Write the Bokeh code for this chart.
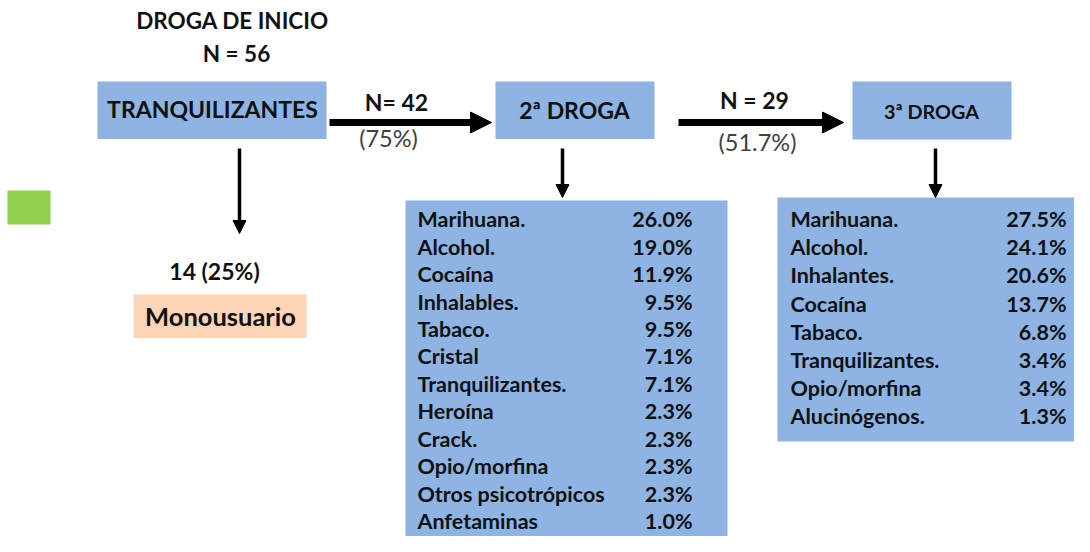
from bokeh.plotting import figure
from bokeh.models import Range1d, ColumnDataSource, Arrow, NormalHead
from bokeh.core.properties import value
from bokeh.embed import file_html
from bokeh.resources import INLINE

# ---------------- data ----------------
title_lines = ["DROGA DE INICIO", "N = 56"]
stage_labels = ["TRANQUILIZANTES", "2ª DROGA", "3ª DROGA"]
flow_n = ["N= 42", "N = 29"]
flow_pct = ["(75%)", "(51.7%)"]
mono_count = "14 (25%)"
mono_label = "Monousuario"

drugs2 = ["Marihuana.", "Alcohol.", "Cocaína", "Inhalables.", "Tabaco.", "Cristal",
          "Tranquilizantes.", "Heroína", "Crack.", "Opio/morfina",
          "Otros psicotrópicos", "Anfetaminas"]
pct2 = [26.0, 19.0, 11.9, 9.5, 9.5, 7.1, 7.1, 2.3, 2.3, 2.3, 2.3, 1.0]

drugs3 = ["Marihuana.", "Alcohol.", "Inhalantes.", "Cocaína", "Tabaco.",
          "Tranquilizantes.", "Opio/morfina", "Alucinógenos."]
pct3 = [27.5, 24.1, 20.6, 13.7, 6.8, 3.4, 3.4, 1.3]

# ---------------- style ----------------
BLUE = "#8DB4E2"
PEACH = "#FBD5B5"
GREEN = "#92D050"
INK = "#111111"
GREY = "#404040"
FONT = value("Lato")

W, H = 1074, 536
p = figure(width=W, height=H, output_backend="svg", toolbar_location=None,
           x_range=Range1d(0, W), y_range=Range1d(H, 0),
           min_border=0, outline_line_color=None)
p.axis.visible = False
p.grid.visible = False
p.background_fill_color = "white"
p.border_fill_color = "white"

# layout (screen-like coordinates, y downward)
stage_boxes = dict(left=[97, 495, 852], right=[326, 654, 1011],
                   top=[81, 81, 81], bottom=[138.5, 138.5, 139])
p.quad(left="left", right="right", top="top", bottom="bottom",
       source=ColumnDataSource(stage_boxes), fill_color=BLUE, line_color=None)

# table boxes
p.quad(left=[405, 777], right=[727, 1100], top=[200, 197], bottom=[560, 441],
       fill_color=BLUE, line_color=None)
# monousuario box
p.quad(left=[133], right=[306], top=[294], bottom=[337.5], fill_color=PEACH, line_color=None)
# green square
p.quad(left=[7], right=[50], top=[190], bottom=[224], fill_color=GREEN, line_color=None)

def txt(xs, ys, texts, size, style="bold", align="center", color=INK):
    # ys are the visual baselines; compensate the renderer's baseline offset
    ys = [y - 0.37 * size for y in ys]
    p.text(x=xs, y=ys, text=texts, text_font=FONT, text_font_size=f"{size}px",
           text_font_style=style, text_align=align, text_baseline="alphabetic",
           text_color=color)

# title
txt([232, 236], [28.5, 61.5], title_lines, 22.5)
# stage labels
txt([212, 574], [117, 118.5], stage_labels[:2], 23)
txt([931], [117.5], stage_labels[2:], 19.8)
# flow labels
txt([396, 754], [110, 108.5], flow_n, 23)
txt([388, 757], [146.5, 150], flow_pct, 23.5, style="normal", color=GREY)
# monousuario
txt([214], [279.5], [mono_count], 23)
txt([220], [324.5], [mono_label], 25.5)

# tables
TS = 21.5
step2 = (528.5 - 226.7) / 11
ys2 = [226.7 + i * step2 for i in range(len(drugs2))]
txt([417] * len(drugs2), ys2, drugs2, TS, align="left")
txt([692] * len(pct2), ys2, [f"{v:.1f}%" for v in pct2], TS, align="right")

step3 = (423.3 - 226.7) / 7
ys3 = [226.7 + i * step3 for i in range(len(drugs3))]
txt([790] * len(drugs3), ys3, drugs3, TS, align="left")
txt([1066] * len(pct3), ys3, [f"{v:.1f}%" for v in pct3], TS, align="right")

# horizontal thick arrows
for xs, xe in [(329, 491), (678, 843)]:
    p.add_layout(Arrow(x_start=xs, y_start=122, x_end=xe, y_end=122, line_width=7,
                       line_color="black",
                       end=NormalHead(size=21, fill_color="black", line_color="black",
                                      line_width=1)))
# vertical thin arrows
for x, ys, ye in [(239, 148, 233), (562, 148, 197), (935, 148, 197)]:
    p.add_layout(Arrow(x_start=x, y_start=ys, x_end=x, y_end=ye, line_width=3.5,
                       line_color="black",
                       end=NormalHead(size=13, fill_color="black", line_color="black",
                                      line_width=1)))

open("out.html", "w").write(file_html(p, INLINE))
